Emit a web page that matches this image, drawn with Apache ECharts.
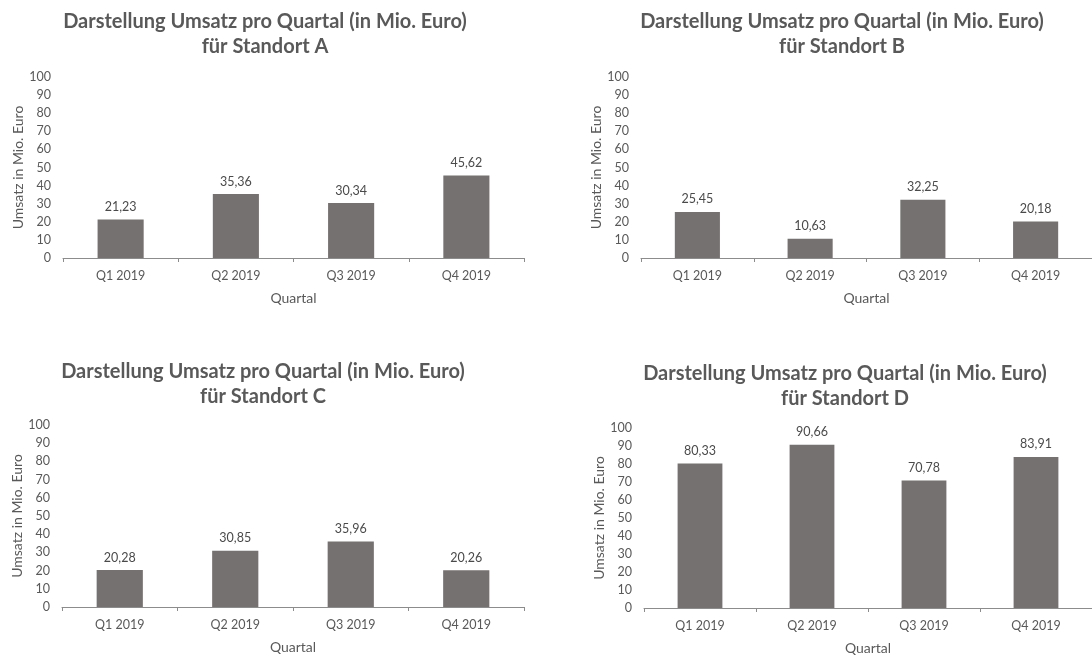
<!DOCTYPE html>
<html>
<head>
<meta charset="utf-8">
<script src="https://cdn.jsdelivr.net/npm/echarts@6/dist/echarts.min.js"></script>
<style>
  html, body { margin: 0; padding: 0; background: #ffffff; }
  #chart { width: 1092px; height: 656px; }
</style>
</head>
<body>
<div id="chart"></div>
<script>
// Quartalsumsätze je Standort (in Mio. Euro)
const quartale = ['Q1 2019', 'Q2 2019', 'Q3 2019', 'Q4 2019'];
const standorte = ['A', 'B', 'C', 'D'];
const umsatzA = [21.23, 35.36, 30.34, 45.62];
const umsatzB = [25.45, 10.63, 32.25, 20.18];
const umsatzC = [20.28, 30.85, 35.96, 20.26];
const umsatzD = [80.33, 90.66, 70.78, 83.91];
const yMin = 0, yMax = 100, yStep = 10;

const umsaetze = [umsatzA, umsatzB, umsatzC, umsatzD];

// Panel layout: plot area and title anchor for each Standort
const panels = [
  { grid: { left: 63,  top: 77,  width: 461, height: 181 }, titleX: 265, titleTop: 9 },
  { grid: { left: 641, top: 77,  width: 462, height: 181 }, titleX: 842, titleTop: 9 },
  { grid: { left: 62,  top: 425, width: 462, height: 182 }, titleX: 263, titleTop: 359 },
  { grid: { left: 644, top: 428, width: 458, height: 181 }, titleX: 845, titleTop: 361 }
];

const FONT = 'Lato, "Open Sans", sans-serif';
const TEXT = '#595959';
const BAR = '#767171';
const AXIS = '#8c8c8c';

const fmt = v => v.toFixed(2).replace('.', ',');

const option = {
  backgroundColor: '#ffffff',
  animation: false,
  textStyle: { fontFamily: FONT },
  title: panels.map((p, i) => ({
    text: 'Darstellung Umsatz pro Quartal (in Mio. Euro)\nfür Standort ' + standorte[i],
    left: p.titleX,
    top: p.titleTop,
    textAlign: 'center',
    padding: 0,
    textStyle: {
      fontFamily: FONT,
      fontWeight: 'bold',
      fontSize: 20,
      lineHeight: 25,
      color: TEXT
    }
  })),
  grid: panels.map(p => Object.assign({ containLabel: false }, p.grid)),
  xAxis: panels.map((p, i) => ({
    type: 'category',
    gridIndex: i,
    data: quartale,
    boundaryGap: true,
    name: 'Quartal',
    nameLocation: 'middle',
    nameGap: 33,
    nameTextStyle: { fontFamily: FONT, fontSize: 14, color: TEXT },
    axisLine: { show: true, lineStyle: { color: AXIS, width: 1 } },
    axisTick: { show: true, length: 4, lineStyle: { color: AXIS } },
    axisLabel: { fontFamily: FONT, fontSize: 12.5, color: TEXT, margin: 11 },
    splitLine: { show: false }
  })),
  yAxis: panels.map((p, i) => ({
    type: 'value',
    gridIndex: i,
    min: yMin,
    max: yMax,
    interval: yStep,
    name: 'Umsatz in Mio. Euro',
    nameLocation: 'middle',
    nameRotate: 90,
    nameGap: 38,
    nameTextStyle: { fontFamily: FONT, fontSize: 14, color: TEXT },
    axisLine: { show: false },
    axisTick: { show: false },
    axisLabel: { fontFamily: FONT, fontSize: 12.5, color: TEXT, margin: 12 },
    splitLine: { show: false }
  })),
  series: umsaetze.map((werte, i) => ({
    type: 'bar',
    name: 'Standort ' + standorte[i],
    xAxisIndex: i,
    yAxisIndex: i,
    data: werte,
    barWidth: '40%',
    itemStyle: { color: BAR },
    label: {
      show: true,
      position: 'top',
      distance: 6,
      formatter: d => fmt(d.value),
      fontFamily: FONT,
      fontSize: 12.5,
      color: '#4a4a4a'
    }
  }))
};

const chart = echarts.init(document.getElementById('chart'), null, { renderer: 'canvas' });
chart.setOption(option);
</script>
</body>
</html>
